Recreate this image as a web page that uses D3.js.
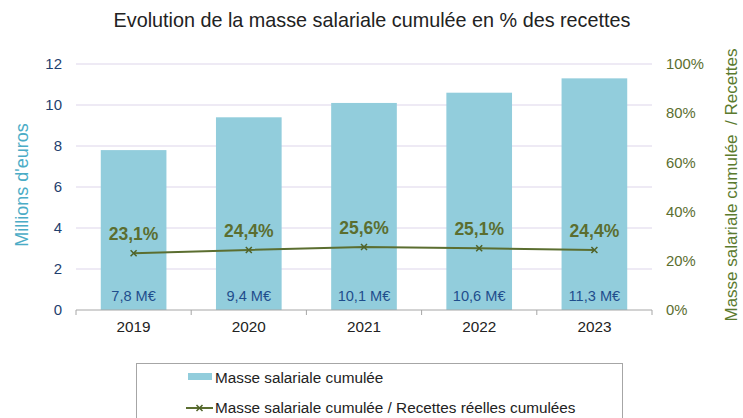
<!DOCTYPE html>
<html>
<head>
<meta charset="utf-8">
<script src="https://cdn.jsdelivr.net/npm/d3@7"></script>
<style>
  body { margin: 0; background: #fff; }
  svg { font-family: "Liberation Sans", Arial, sans-serif; }
</style>
</head>
<body>
<svg id="chart" width="743" height="418"></svg>
<script>
// data
var years = ["2019", "2020", "2021", "2022", "2023"];
var masse = [7.8, 9.4, 10.1, 10.6, 11.3];          // millions d'euros
var ratio = [0.231, 0.244, 0.256, 0.251, 0.244];   // masse / recettes
var leftTicks = [0, 2, 4, 6, 8, 10, 12];
var rightTicks = [0, 0.2, 0.4, 0.6, 0.8, 1];

var svg = d3.select("#chart");
var margin = {left: 76, right: 91, top: 64, bottom: 108};
var W = 743, H = 418;

var x = d3.scaleBand().domain(years).range([margin.left, W - margin.right]).paddingInner(0.43).paddingOuter(0.215);
var yL = d3.scaleLinear().domain([0, 12]).range([H - margin.bottom, margin.top]);
var yR = d3.scaleLinear().domain([0, 1]).range([H - margin.bottom, margin.top]);

var fmt = function(v, d) { return v.toFixed(d).replace(".", ","); };

// title
svg.append("text").attr("x", 372).attr("y", 27).attr("text-anchor", "middle")
  .attr("font-size", 19.8).attr("fill", "#222")
  .text("Evolution de la masse salariale cumulée en % des recettes");

// gridlines
svg.append("g").selectAll("line").data(leftTicks.slice(1)).join("line")
  .attr("x1", margin.left).attr("x2", W - margin.right)
  .attr("y1", function(d) { return yL(d); }).attr("y2", function(d) { return yL(d); })
  .attr("stroke", "#ddd5ea").attr("stroke-width", 1);

// left axis
var gl = svg.append("g").attr("transform", "translate(" + margin.left + ",0)")
  .call(d3.axisLeft(yL).tickValues(leftTicks).tickSize(0).tickPadding(14));
gl.select(".domain").remove();
gl.selectAll("text").attr("font-size", 15).attr("fill", "#1f3f6e").attr("font-family", "Liberation Sans, Arial, sans-serif");

// right axis
var gr = svg.append("g").attr("transform", "translate(" + (W - margin.right) + ",0)")
  .call(d3.axisRight(yR).tickValues(rightTicks).tickSize(0).tickPadding(14).tickFormat(d3.format(".0%")));
gr.select(".domain").remove();
gr.selectAll("text").attr("font-size", 14.8).attr("fill", "#5b6e30").attr("font-family", "Liberation Sans, Arial, sans-serif");

// bars
svg.append("g").selectAll("rect").data(years).join("rect")
  .attr("x", function(d) { return x(d); })
  .attr("y", function(d, i) { return yL(masse[i]); })
  .attr("width", x.bandwidth())
  .attr("height", function(d, i) { return yL(0) - yL(masse[i]); })
  .attr("fill", "#92cddc");

// x axis
var step = x.step();
var bounds = [0, 1, 2, 3, 4, 5].map(function(i) { return margin.left + i * step; });
svg.append("line").attr("x1", margin.left).attr("x2", W - margin.right)
  .attr("y1", yL(0)).attr("y2", yL(0)).attr("stroke", "#a6a6a6");
svg.append("g").selectAll("line").data(bounds).join("line")
  .attr("x1", function(d) { return d; }).attr("x2", function(d) { return d; })
  .attr("y1", yL(0)).attr("y2", yL(0) + 5).attr("stroke", "#a6a6a6");
svg.append("g").selectAll("text").data(years).join("text")
  .attr("x", function(d) { return x(d) + x.bandwidth() / 2; })
  .attr("y", yL(0) + 22).attr("text-anchor", "middle")
  .attr("font-size", 15.3).attr("fill", "#222").text(function(d) { return d; });

// bar value labels
svg.append("g").selectAll("text").data(years).join("text")
  .attr("x", function(d) { return x(d) + x.bandwidth() / 2; })
  .attr("y", yL(0) - 9).attr("text-anchor", "middle")
  .attr("font-size", 14.6).attr("fill", "#1f4e8c")
  .text(function(d, i) { return fmt(masse[i], 1) + " M€"; });

// ratio line
var cx = function(d, i) { return x(years[i]) + x.bandwidth() / 2; };
var line = d3.line().x(function(d, i) { return cx(d, i); }).y(function(d) { return yR(d); });
svg.append("path").datum(ratio).attr("d", line)
  .attr("fill", "none").attr("stroke", "#5b6e30").attr("stroke-width", 2);

var marker = function(g, px, py) {
  g.append("path").attr("d", "M" + (px - 3) + "," + (py - 3) + "L" + (px + 3) + "," + (py + 3) +
      "M" + (px - 3) + "," + (py + 3) + "L" + (px + 3) + "," + (py - 3))
    .attr("stroke", "#4f6228").attr("stroke-width", 1.5);
};
var mg = svg.append("g");
ratio.forEach(function(r, i) { marker(mg, cx(r, i), yR(r)); });

// ratio labels
svg.append("g").selectAll("text").data(ratio).join("text")
  .attr("x", function(d, i) { return cx(d, i); })
  .attr("y", function(d) { return yR(d) - 13; })
  .attr("text-anchor", "middle").attr("font-size", 17.5).attr("font-weight", "bold")
  .attr("fill", "#5b6e30")
  .text(function(d) { return fmt(d * 100, 1) + "%"; });

// axis titles
svg.append("text").attr("transform", "translate(28," + 185 + ") rotate(-90)")
  .attr("text-anchor", "middle").attr("font-size", 18).attr("fill", "#4bacc6")
  .text("Millions d'euros");
svg.append("text").attr("transform", "translate(737," + 185 + ") rotate(-90)")
  .attr("text-anchor", "middle").attr("font-size", 17).attr("fill", "#5b7a2e")
  .attr("xml:space", "preserve")
  .text("Masse salariale cumulée  / Recettes");

// legend
svg.append("rect").attr("x", 136.5).attr("y", 363.5).attr("width", 486).attr("height", 70)
  .attr("fill", "none").attr("stroke", "#a6a6a6");
svg.append("rect").attr("x", 188).attr("y", 373).attr("width", 24).attr("height", 7).attr("fill", "#92cddc");
svg.append("text").attr("x", 215).attr("y", 383).attr("font-size", 15.3).attr("fill", "#222")
  .text("Masse salariale cumulée");
svg.append("line").attr("x1", 186).attr("x2", 213).attr("y1", 408).attr("y2", 408)
  .attr("stroke", "#5b6e30").attr("stroke-width", 2);
marker(svg, 199.5, 408);
svg.append("text").attr("x", 215).attr("y", 413).attr("font-size", 15.3).attr("fill", "#222")
  .text("Masse salariale cumulée / Recettes réelles cumulées");
</script>
</body>
</html>
